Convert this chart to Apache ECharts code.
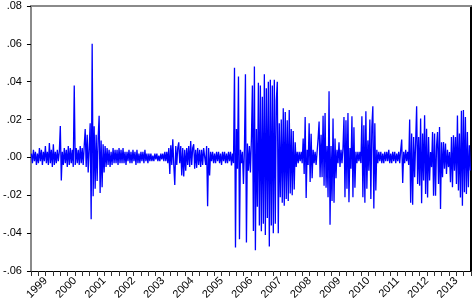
<!DOCTYPE html>
<html>
<head>
<meta charset="utf-8">
<script src="https://cdn.jsdelivr.net/npm/echarts@6/dist/echarts.min.js"></script>
<style>html,body{margin:0;padding:0;background:#fff;}#c{width:473px;height:306px;}</style>
</head>
<body>
<div id="c"></div>
<script>
// Period covered by the series (fractional years)
const startYear = 1999;
const endYear = 2014;
// Year labels shown on the x axis
const yearLabels = ['1999','2000','2001','2002','2003','2004','2005','2006','2007','2008','2009','2010','2011','2012','2013'];
// Y tick values
const yTicks = [-0.06,-0.04,-0.02,0.00,0.02,0.04,0.06,0.08];
// Series values, evenly spaced in time
const returns1999_2001 = [
 0.002,-0.003,0.004,-0.002,0.003,-0.004,0.002,-0.003,0.005,-0.002,
 0.004,-0.004,0.003,-0.002,0.006,-0.003,0.003,-0.004,0.0076,-0.003,
 0.004,-0.005,0.007,-0.004,0.003,-0.003,0.004,-0.002,0.003,0.0166,
 -0.0122,0.003,-0.004,0.005,-0.003,0.004,-0.005,0.006,-0.004,0.005,
 -0.003,0.004,-0.005,0.038,-0.004,0.005,-0.003,0.004,-0.004,0.006,
 -0.003,0.005,-0.004,0.006,0.015,-0.005,0.012,-0.008,0.005,0.018,
 -0.0326,0.060,-0.0205,0.0165,-0.0166,0.012,-0.0125,0.010,0.022,-0.0188,
 0.009,-0.0158,0.007,-0.008,0.006,-0.005,0.005,-0.004,0.004,-0.005,
 0.003,-0.004,0.005,-0.003,0.004,-0.003,0.004,-0.004,0.005,-0.003
];
const returns2002_2004 = [
 0.004,-0.003,0.005,-0.003,0.003,-0.004,0.003,-0.002,0.004,-0.003,
 0.003,-0.003,0.004,-0.002,0.003,-0.004,0.004,-0.003,0.002,-0.003,
 0.003,-0.002,0.003,-0.003,0.004,-0.002,0.002,-0.003,0.002,-0.002,
 0.002,-0.002,0.001,-0.002,0.002,-0.001,0.002,-0.002,0.001,-0.002,
 0.002,-0.001,0.002,-0.002,0.003,-0.002,0.003,-0.003,0.005,-0.0087,
 0.0064,-0.004,0.0096,-0.004,-0.0145,0.006,-0.004,0.005,0.008,-0.003,
 0.006,-0.0095,0.005,-0.010,0.004,-0.007,0.005,-0.004,0.006,-0.005,
 0.0087,-0.004,0.005,0.007,-0.006,0.004,-0.0055,0.005,-0.004,0.004,
 -0.005,0.004,-0.004,0.005,0.006,-0.004,0.006,-0.0258,0.005,-0.0095
];
const returns2005_2007 = [
 0.003,-0.002,0.003,-0.003,0.002,-0.003,0.003,-0.002,0.003,-0.003,
 0.002,-0.004,0.003,-0.002,0.003,-0.003,0.002,-0.003,0.003,-0.002,
 0.003,-0.0042,0.002,-0.003,0.0474,-0.0476,0.015,-0.006,0.0427,-0.0432,
 0.004,-0.003,0.003,-0.014,0.005,0.044,-0.045,0.0074,-0.007,0.006,
 -0.008,0.010,0.038,-0.0388,0.048,-0.049,0.015,-0.026,0.0395,-0.036,
 0.038,-0.039,0.032,-0.035,0.044,-0.041,0.0365,-0.032,0.040,-0.047,
 0.041,-0.036,0.038,-0.040,0.041,-0.035,0.030,0.040,-0.040,0.018,
 -0.021,0.020,-0.024,0.026,-0.0255,0.024,-0.022,0.0196,-0.023,0.025,
 -0.019,0.015,-0.020,0.014,-0.017,0.008,-0.005,0.003,-0.003,0.003
];
const returns2008_2010 = [
 -0.002,0.003,-0.003,0.010,-0.0087,0.0214,-0.0214,0.004,-0.004,0.018,
 -0.013,0.0125,-0.011,0.004,-0.003,0.003,-0.004,0.003,0.010,0.019,
 -0.0104,0.012,-0.0104,0.022,-0.015,0.0235,-0.016,0.006,-0.021,0.035,
 -0.0356,0.006,-0.023,0.0205,-0.024,0.010,-0.011,0.004,-0.003,0.008,
 -0.005,0.004,-0.003,0.005,0.0214,-0.021,0.0196,-0.0166,0.0235,-0.0237,
 0.005,-0.006,0.0218,-0.021,0.016,-0.016,0.003,-0.003,0.003,-0.002,
 0.003,-0.003,0.0218,-0.021,0.017,-0.024,0.0244,-0.0166,0.009,-0.007,
 0.020,-0.022,0.016,0.027,-0.027,0.018,-0.0175,0.004,-0.003,0.003
];
const returns2011_2013 = [
 -0.002,0.003,-0.003,0.002,-0.003,0.003,-0.002,0.003,-0.002,0.004,
 -0.003,0.002,-0.003,0.003,-0.002,0.003,-0.003,0.002,-0.002,0.003,
 -0.003,0.004,0.0094,-0.0135,0.003,-0.003,0.004,-0.002,0.003,-0.004,
 0.020,-0.024,0.0126,-0.025,0.0108,-0.0104,0.008,0.027,-0.014,0.0108,
 -0.0149,0.0205,-0.0242,0.0126,-0.0122,0.0223,-0.0193,0.0152,-0.0211,0.0108,
 -0.0122,0.0028,-0.0051,0.0134,-0.0202,0.0126,-0.0202,0.006,0.0134,-0.014,
 0.0161,-0.0273,0.008,-0.0104,0.0081,-0.006,0.0073,-0.0087,0.004,-0.0051,
 0.0028,-0.0131,0.0108,-0.0158,0.0117,-0.007,0.0108,-0.014,0.0221,-0.0175,
 0.0126,-0.0211,0.0246,-0.0255,0.025,-0.0184,0.0214,-0.0193,0.0134,-0.0158,
 0.0064,-0.0069
];

const values = [].concat(returns1999_2001, returns2002_2004, returns2005_2007, returns2008_2010, returns2011_2013);
const step = (endYear - startYear) / values.length;
const seriesData = values.map((v, i) => [startYear + (i + 0.5) * step, v]);

const FONT = 'Liberation Sans, Arial, Helvetica, sans-serif';
function fmtY(v) {
  const s = Math.abs(v).toFixed(2).replace(/^0/, '');
  return (v < -1e-9 ? '-' : '') + s;
}
function fmtX(v) {
  const f = v - Math.floor(v);
  if (Math.abs(f - 0.5) < 1e-6) {
    const idx = Math.floor(v) - startYear;
    return yearLabels[idx] || '';
  }
  return '';
}

const chart = echarts.init(document.getElementById('c'), null, {renderer: 'canvas'});
chart.setOption({
  animation: false,
  backgroundColor: '#ffffff',
  grid: {left: 30, right: 1, top: 6, bottom: 35, containLabel: false},
  xAxis: [{
    type: 'value', min: startYear, max: endYear, interval: 0.25,
    position: 'bottom',
    axisLine: {show: true, onZero: false, lineStyle: {color: '#000', width: 1}},
    axisTick: {show: true, length: 5, lineStyle: {color: '#333', width: 1}},
    axisLabel: {show: true, rotate: 45, margin: 8, formatter: fmtX, color: '#000',
      fontFamily: FONT, fontSize: 11, showMinLabel: true, showMaxLabel: true},
    splitLine: {show: false}
  }, {
    type: 'value', min: startYear, max: endYear, position: 'top',
    axisLine: {show: true, onZero: false, lineStyle: {color: '#8a8a8a', width: 2}},
    axisTick: {show: false}, axisLabel: {show: false}, splitLine: {show: false}
  }],
  yAxis: [{
    type: 'value', min: yTicks[0], max: yTicks[yTicks.length - 1], interval: 0.02,
    position: 'left',
    axisLine: {show: true, onZero: false, lineStyle: {color: '#8a8a8a', width: 2}},
    axisTick: {show: true, length: 4, lineStyle: {color: '#000', width: 1}},
    axisLabel: {show: true, margin: 9, formatter: fmtY, color: '#000',
      fontFamily: FONT, fontSize: 11},
    splitLine: {show: false}
  }, {
    type: 'value', min: yTicks[0], max: yTicks[yTicks.length - 1], position: 'right',
    axisLine: {show: true, onZero: false, lineStyle: {color: '#000', width: 2}},
    axisTick: {show: false}, axisLabel: {show: false}, splitLine: {show: false}
  }],
  series: [{
    type: 'line', xAxisIndex: 0, yAxisIndex: 0,
    data: seriesData, showSymbol: false, symbol: 'none',
    lineStyle: {color: '#0000ff', width: 1.3}, clip: true
  }]
});
</script>
</body>
</html>
